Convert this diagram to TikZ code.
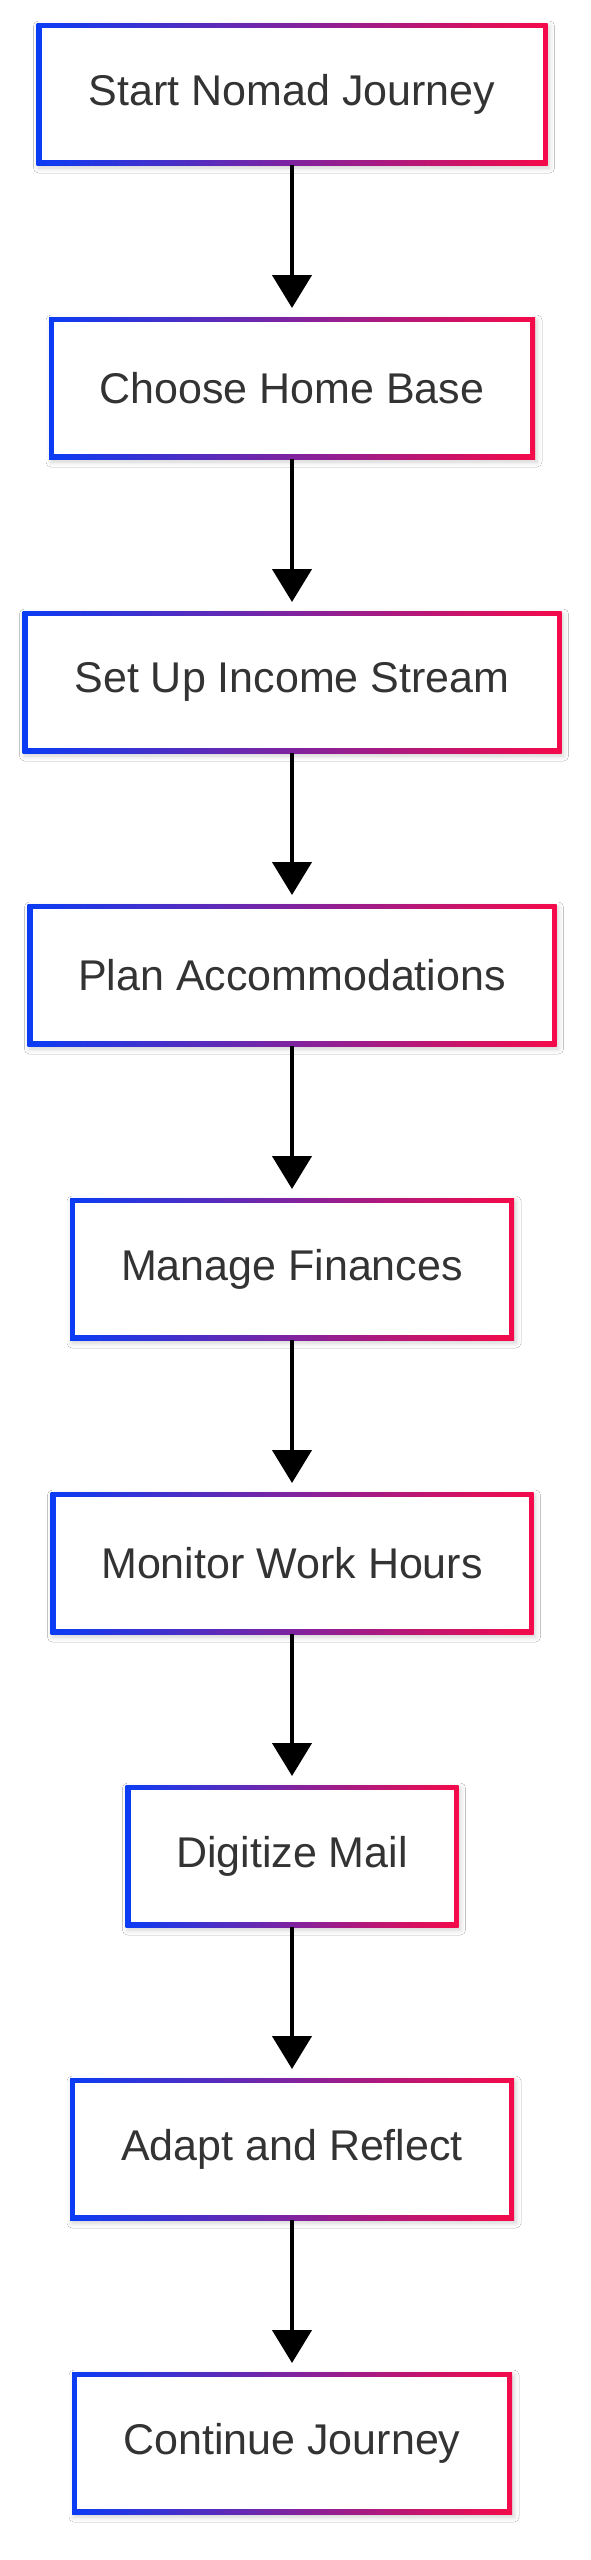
\documentclass[tikz,border=0pt]{standalone}
\usepackage{fontspec}
\setmainfont{Liberation Sans}
\usetikzlibrary{arrows.meta,shadows.blur}
\definecolor{gblue}{HTML}{0A3CF5}
\definecolor{gred}{HTML}{F50A4A}
\definecolor{txt}{HTML}{333333}
\tikzset{
  flowbox/.style={
    rectangle, inner sep=0pt, outer sep=0pt, minimum height=142pt,
    left color=gblue, right color=gred, middle color=gblue!50!gred,
    blur shadow={shadow xshift=2pt, shadow yshift=-3pt, shadow blur radius=5pt, shadow opacity=18},
    path picture={\fill[white] ([shift={(5pt,-5pt)}]path picture bounding box.north west) rectangle ([shift={(-5pt,5pt)}]path picture bounding box.south east);},
    text=txt, font=\fontsize{43}{51}\selectfont
  },
  flowarrow/.style={draw=black, line width=4.5pt, -{Triangle[width=39pt,length=33pt]}, shorten >=9pt}
}
\begin{document}
\begin{tikzpicture}[x=1pt,y=1pt]
\useasboundingbox[fill=white] (0,0) rectangle (591,-2560);
\node[flowbox, minimum width=511pt] (n1) at (292,-94) {Start Nomad Journey};
\node[flowbox, minimum width=486pt] (n2) at (292,-388) {Choose Home Base};
\node[flowbox, minimum width=539pt] (n3) at (292,-682) {Set Up Income Stream};
\node[flowbox, minimum width=529pt] (n4) at (292,-975) {Plan Accommodations};
\node[flowbox, minimum width=444pt] (n5) at (292,-1269) {Manage Finances};
\node[flowbox, minimum width=483pt] (n6) at (292,-1563) {Monitor Work Hours};
\node[flowbox, minimum width=333pt] (n7) at (292,-1856) {Digitize Mail};
\node[flowbox, minimum width=444pt] (n8) at (292,-2149) {Adapt and Reflect};
\node[flowbox, minimum width=440pt] (n9) at (292,-2443) {Continue Journey};
\draw[flowarrow] (n1.south) -- (n2.north);
\draw[flowarrow] (n2.south) -- (n3.north);
\draw[flowarrow] (n3.south) -- (n4.north);
\draw[flowarrow] (n4.south) -- (n5.north);
\draw[flowarrow] (n5.south) -- (n6.north);
\draw[flowarrow] (n6.south) -- (n7.north);
\draw[flowarrow] (n7.south) -- (n8.north);
\draw[flowarrow] (n8.south) -- (n9.north);
\end{tikzpicture}
\end{document}
